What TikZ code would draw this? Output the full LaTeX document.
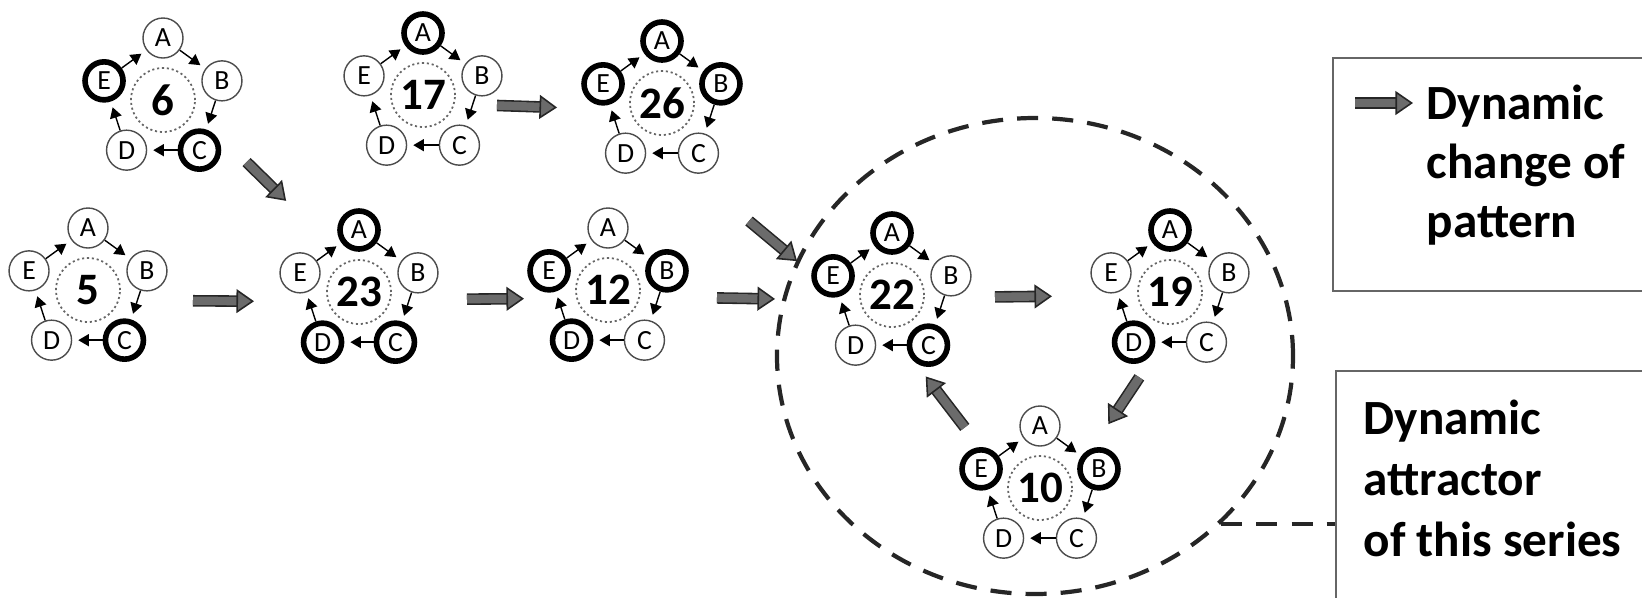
\documentclass[tikz,border=0pt]{standalone}
\usepackage{fontspec}
\setmainfont{Carlito}
\usetikzlibrary{calc, arrows.meta, shapes.geometric}

\newcommand{\lettf}{\fontsize{7.9}{9}\selectfont}
\newcommand{\numf}{\fontsize{12.8}{14}\selectfont\bfseries}
\newcommand{\legf}{\fontsize{14}{16.8}\selectfont\bfseries}
\newcommand{\attf}{\fontsize{14}{17.4}\selectfont\bfseries}

% one pattern: number in the middle, A..E round it
\newcommand{\motif}[8]{%
  \node[numc] (#1) at #2 {#3};
  \node[#4] (#1A) at ($(#1)+(90:0.62)$) {A};
  \node[#5] (#1B) at ($(#1)+(18:0.62)$) {B};
  \node[#6] (#1C) at ($(#1)+(-54:0.62)$) {C};
  \node[#7] (#1D) at ($(#1)+(-126:0.62)$) {D};
  \node[#8] (#1E) at ($(#1)+(162:0.62)$) {E};
  \draw[cyc] (#1A) -- (#1B);
  \draw[cyc] (#1B) -- (#1C);
  \draw[cyc] (#1C) -- (#1D);
  \draw[cyc] (#1D) -- (#1E);
  \draw[cyc] (#1E) -- (#1A);
}

\begin{document}
\begin{tikzpicture}[
    cell/.style={circle, draw=black!70, line width=0.4pt, minimum size=0.40cm, inner sep=0pt, font=\lettf},
    hot/.style={cell, draw=black, line width=1.6pt, minimum size=0.38cm},
    numc/.style={circle, draw=black!60, line width=0.5pt, dash pattern=on 0.6pt off 0.8pt, minimum size=0.64cm, inner sep=0pt, font=\numf},
    cyc/.style={line width=0.4pt, shorten >=0.06cm, -{Triangle[length=3pt, width=3.4pt]}},
    flow/.style={draw=black!85, double=black!58, double distance=2.4pt, line width=0.45pt,
      -{Triangle[length=5pt, width=6.8pt, fill=black!58, line width=0.45pt]}},
    dashy/.style={draw=black!85, line width=1.2pt, dash pattern=on 6pt off 4pt},
    legend/.style={draw=black!60, line width=0.5pt, inner sep=0pt}
  ]
  \clip (0,0) rectangle (16.42,-5.97);

  % attractor
  \node[ellipse, dashy, minimum width=5.16cm, minimum height=4.76cm, inner sep=0pt] (attr) at (10.35,-3.56) {};

  \motif{m6}{(1.63,-1.00)}{6}{cell}{cell}{hot}{cell}{hot}
  \motif{m17}{(4.23,-0.95)}{17}{hot}{cell}{cell}{cell}{cell}
  \motif{m26}{(6.62,-1.03)}{26}{hot}{hot}{cell}{cell}{hot}
  \motif{m5}{(0.88,-2.90)}{5}{cell}{cell}{hot}{cell}{cell}
  \motif{m23}{(3.59,-2.92)}{23}{hot}{cell}{hot}{hot}{cell}
  \motif{m12}{(6.08,-2.90)}{12}{cell}{hot}{cell}{hot}{hot}
  \motif{m22}{(8.92,-2.95)}{22}{hot}{cell}{hot}{cell}{hot}
  \motif{m19}{(11.70,-2.92)}{19}{hot}{cell}{cell}{hot}{cell}
  \motif{m10}{(10.40,-4.88)}{10}{cell}{hot}{cell}{cell}{hot}

  % changes of pattern
  \draw[flow, shorten <=1.03cm, shorten >=1.16cm] ([shift={(0.10,0.10)}]m6.center) -- ([shift={(0.10,0.10)}]m23.center);
  \draw[flow, shorten <=0.74cm, shorten >=1.05cm] ([yshift=-0.08cm]m17.center) -- ([yshift=-0.08cm]m26.center);
  \draw[flow, shorten <=1.05cm, shorten >=1.05cm] ([yshift=-0.10cm]m5.center) -- ([yshift=-0.10cm]m23.center);
  \draw[flow, shorten <=1.08cm, shorten >=0.84cm] ([yshift=-0.08cm]m23.center) -- ([yshift=-0.08cm]m12.center);
  \draw[flow, shorten <=1.09cm, shorten >=1.17cm] ([yshift=-0.06cm]m12.center) -- ([yshift=-0.06cm]m22.center);
  \draw[flow, shorten <=1.03cm, shorten >=1.18cm] ([yshift=-0.03cm]m22.center) -- ([yshift=-0.03cm]m19.center);
  \draw[flow, shorten <=1.42cm, shorten >=0.95cm] ([shift={(-0.22,-0.27)}]m26.center) -- ([shift={(-0.22,-0.27)}]m22.center);
  \draw[flow, shorten <=0.88cm, shorten >=0.91cm] ([shift={(0.18,-0.12)}]m19.center) -- ([shift={(0.18,-0.12)}]m10.center);
  \draw[flow, shorten <=0.94cm, shorten >=0.85cm] ([shift={(-0.18,-0.14)}]m10.center) -- ([shift={(-0.18,-0.14)}]m22.center);

  % legend
  \node[legend, anchor=north west, minimum width=4cm, minimum height=2.33cm] (keybox) at (13.32,-0.57) {};
  \coordinate (k1) at (13.55,-1.03);
  \coordinate (k2) at (14.13,-1.03);
  \draw[flow] (k1) -- (k2);
  \node[anchor=north west, align=left, font=\legf, inner sep=0pt] (keytxt) at (14.26,-0.84) {Dynamic\\change of\\pattern};

  \node[legend, anchor=north west, minimum width=4cm, minimum height=3cm] (attrbox) at (13.35,-3.70) {};
  \node[anchor=north west, align=left, font=\attf, inner sep=0pt] (attrtxt) at (13.63,-3.99) {Dynamic\\attractor\\of this series};
  \draw[dashy] (attr.-42) -- (attr.-42 -| attrbox.west);
\end{tikzpicture}
\end{document}
